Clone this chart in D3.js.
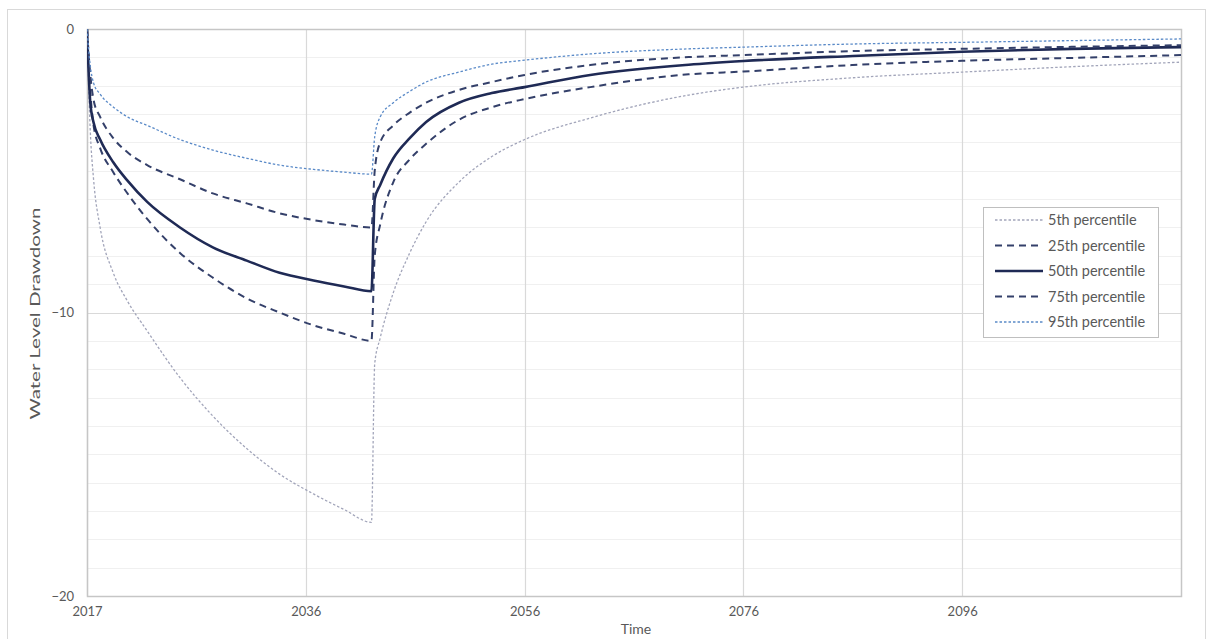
<!DOCTYPE html>
<html>
<head>
<meta charset="utf-8">
<script src="https://cdn.jsdelivr.net/npm/d3@7"></script>
<style>
  html, body { margin: 0; padding: 0; background: #ffffff; }
  svg { display: block; font-family: Lato, "Open Sans", sans-serif; }
</style>
</head>
<body>
<svg id="chart" width="1213" height="639"></svg>
<script>
// ---- data ----
const years = [2017, 2017.3, 2017.6, 2018.2, 2019.4, 2020.7, 2022.5, 2025.5, 2028.5, 2031.6, 2034.6, 2037.7, 2040.5, 2043, 2043.3, 2043.8, 2045, 2046.5, 2048, 2051, 2054, 2057, 2063, 2072, 2077, 2087, 2097, 2107, 2117];
const p5  = [0, -3.6, -5.3, -7.0, -8.6, -9.6, -10.65, -12.3, -13.65, -14.8, -15.7, -16.4, -16.95, -17.4, -11.8, -10.9, -9.3, -7.9, -6.8, -5.4, -4.5, -3.9, -3.14, -2.33, -2.05, -1.72, -1.52, -1.33, -1.17];
const p25 = [0, -2.2, -3.4, -4.2, -5.05, -5.8, -6.7, -7.9, -8.77, -9.5, -10.0, -10.45, -10.75, -11.0, -8.0, -6.9, -5.4, -4.6, -4.05, -3.2, -2.76, -2.47, -2.05, -1.6, -1.5, -1.27, -1.12, -1.02, -0.92];
const p50 = [0, -2.6, -3.3, -3.9, -4.7, -5.35, -6.1, -7.0, -7.7, -8.17, -8.6, -8.87, -9.08, -9.25, -6.0, -5.5, -4.56, -3.85, -3.28, -2.6, -2.26, -2.05, -1.62, -1.26, -1.13, -0.95, -0.8, -0.7, -0.64];
const p75 = [0, -1.6, -2.5, -3.1, -3.85, -4.35, -4.8, -5.3, -5.8, -6.15, -6.5, -6.74, -6.9, -7.0, -5.0, -4.0, -3.4, -2.95, -2.6, -2.15, -1.87, -1.62, -1.27, -0.99, -0.92, -0.78, -0.7, -0.63, -0.57];
const p95 = [0, -1.3, -1.9, -2.3, -2.75, -3.1, -3.4, -3.9, -4.27, -4.56, -4.8, -4.95, -5.05, -5.12, -3.8, -3.1, -2.6, -2.2, -1.87, -1.52, -1.24, -1.1, -0.88, -0.7, -0.64, -0.53, -0.47, -0.41, -0.35];
const seriesNames = ["5th percentile", "25th percentile", "50th percentile", "75th percentile", "95th percentile"];
const xTickYears = [2017, 2037, 2057, 2077, 2097];
const xTickLabels = ["2017", "2036", "2056", "2076", "2096"];
const yTicks = [0, -10, -20];
const yMinorTicks = [-1, -2, -3, -4, -5, -6, -7, -8, -9, -11, -12, -13, -14, -15, -16, -17, -18, -19];
const xTitle = "Time";
const yTitle = "Water Level Drawdown";

// ---- styles ----
const styles = [
  { color: "#a2a5ba", width: 1.3, dash: "2.5,2" },
  { color: "#34406a", width: 2, dash: "7,5" },
  { color: "#1f2a55", width: 2.6, dash: null },
  { color: "#34406a", width: 2, dash: "7,5" },
  { color: "#5a8ac8", width: 1.3, dash: "2.5,2" }
];
const seriesValues = [p5, p25, p50, p75, p95];

const svg = d3.select("#chart");
const margin = { left: 87, top: 29, right: 1181, bottom: 596 };

const x = d3.scaleLinear().domain([2017, 2117]).range([margin.left, margin.right]);
const y = d3.scaleLinear().domain([0, -20]).range([margin.top, margin.bottom]);

// outer chart border
svg.append("rect").attr("x", 7.5).attr("y", 9.5).attr("width", 1198).attr("height", 640)
  .attr("fill", "#fff").attr("stroke", "#d9d9d9");

// minor gridlines
svg.append("g").selectAll("line").data(yMinorTicks).join("line")
  .attr("x1", margin.left).attr("x2", margin.right)
  .attr("y1", d => Math.round(y(d)) + 0.5).attr("y2", d => Math.round(y(d)) + 0.5)
  .attr("stroke", "#f0f0f0").attr("stroke-width", 1);

// major gridlines (y)
svg.append("g").selectAll("line").data(yTicks).join("line")
  .attr("x1", margin.left).attr("x2", margin.right)
  .attr("y1", d => Math.round(y(d)) + 0.5).attr("y2", d => Math.round(y(d)) + 0.5)
  .attr("stroke", "#d9d9d9").attr("stroke-width", 1.2);

// vertical gridlines
svg.append("g").selectAll("line").data(xTickYears).join("line")
  .attr("x1", d => Math.round(x(d)) + 0.5).attr("x2", d => Math.round(x(d)) + 0.5)
  .attr("y1", margin.top).attr("y2", margin.bottom)
  .attr("stroke", "#d9d9d9").attr("stroke-width", 1.2);

// plot border
svg.append("rect").attr("x", margin.left + 0.5).attr("y", margin.top + 0.5)
  .attr("width", margin.right - margin.left).attr("height", margin.bottom - margin.top)
  .attr("fill", "none").attr("stroke", "#c6c6c6").attr("stroke-width", 1.5);

// axes (labels only)
const yAxis = d3.axisLeft(y).tickValues(yTicks).tickSize(0).tickPadding(13).tickFormat(d3.format("d"));
const gy = svg.append("g").attr("transform", `translate(${margin.left},0)`).call(yAxis);
gy.select(".domain").remove();
gy.selectAll("text").attr("fill", "#595959").style("font-size", "13px").style("font-family", "Lato, sans-serif");

const xAxis = d3.axisBottom(x).tickValues(xTickYears).tickSize(0).tickPadding(11)
  .tickFormat((d, i) => xTickLabels[i]);
const gx = svg.append("g").attr("transform", `translate(0,${margin.bottom})`).call(xAxis);
gx.select(".domain").remove();
gx.selectAll("text").attr("fill", "#595959").style("font-size", "13px").style("font-family", "Lato, sans-serif");

// titles
svg.append("text").attr("x", 636).attr("y", 634).attr("text-anchor", "middle")
  .attr("fill", "#595959").style("font-size", "14px").text(xTitle);
svg.append("text").attr("transform", `translate(40,${(margin.top + margin.bottom) / 2 + 1}) rotate(-90)`)
  .attr("text-anchor", "middle").attr("fill", "#595959").style("font-size", "14px")
  .attr("textLength", 212).attr("lengthAdjust", "spacingAndGlyphs").text(yTitle);

// lines
const line = d3.line().x((d, i) => x(years[i])).y(d => y(d)).curve(d3.curveMonotoneX);
svg.append("clipPath").attr("id", "clip").append("rect")
  .attr("x", margin.left).attr("y", margin.top - 2).attr("width", margin.right - margin.left).attr("height", margin.bottom - margin.top + 4);
const gl = svg.append("g").attr("clip-path", "url(#clip)");
seriesValues.forEach((vals, k) => {
  gl.append("path").datum(vals).attr("d", line)
    .attr("fill", "none").attr("stroke", styles[k].color)
    .attr("stroke-width", styles[k].width)
    .attr("stroke-dasharray", styles[k].dash)
    .attr("stroke-linejoin", "round");
});

// legend
const lg = svg.append("g").attr("transform", "translate(983,207)");
lg.append("rect").attr("x", 0.5).attr("y", 0.5).attr("width", 175).attr("height", 130)
  .attr("fill", "#fff").attr("stroke", "#bfbfbf").attr("stroke-width", 1);
seriesNames.forEach((name, k) => {
  const yy = 13 + k * 25.5;
  lg.append("line").attr("x1", 12).attr("x2", 60).attr("y1", yy).attr("y2", yy)
    .attr("stroke", styles[k].color).attr("stroke-width", styles[k].width)
    .attr("stroke-dasharray", styles[k].dash);
  lg.append("text").attr("x", 65).attr("y", yy).attr("dy", "0.35em")
    .attr("fill", "#595959").style("font-size", "14.5px").text(name);
});
</script>
</body>
</html>
